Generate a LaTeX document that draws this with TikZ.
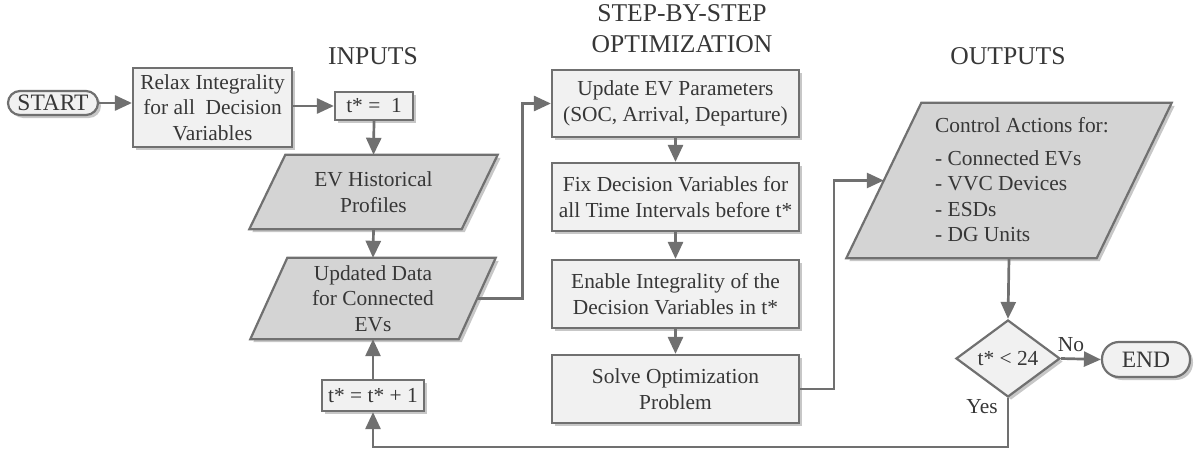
\documentclass[tikz,border=0pt]{standalone}
\usepackage{fontspec}
\setmainfont{Liberation Serif}
\newfontfamily\tnrfont{Liberation Serif}
\usetikzlibrary{arrows.meta,shapes.geometric,shadows,backgrounds}
\definecolor{linec}{RGB}{112,112,112}
\definecolor{boxfill}{RGB}{241,241,241}
\definecolor{parfill}{RGB}{212,212,212}
\definecolor{txtc}{RGB}{55,55,55}
\newcommand\fsbox{\tnrfont\fontsize{21.4}{25.5}\selectfont}
\newcommand\fshead{\tnrfont\fontsize{25.6}{30}\selectfont}
\newcommand\fsterm{\tnrfont\fontsize{23.5}{28}\selectfont}
\begin{document}
\begin{tikzpicture}[x=1pt,y=-1pt,
  every node/.style={text=txtc},
  shad/.style={drop shadow={shadow xshift=3pt,shadow yshift=-3pt,opacity=0.22,fill=black}},
  bx/.style={draw=linec,line width=2.2pt,fill=boxfill,inner sep=0pt,align=center,font=\fsbox,shad},
  term/.style={bx,font=\fsterm},
  partxt/.style={inner sep=0pt,align=center,font=\fsbox},
  parshape/.style={draw=linec,line width=2.2pt,fill=parfill,line join=miter,shad},
  head/.style={font=\fshead,anchor=base},
  lbl/.style={font=\fsbox,inner sep=0pt},
  arr/.style={draw=linec,line width=2.7pt,line join=miter,-{Triangle[length=17pt,width=15pt]}}
]
\useasboundingbox (0,0) rectangle (1197,452);

% headers
\node[head] (hin) at (373,65) {INPUTS};
\node[head] (hstep) at (682,22) {STEP-BY-STEP};
\node[head] (hopt) at (682,53) {OPTIMIZATION};
\node[head] (hout) at (1008,65) {OUTPUTS};

% left
\node[term,minimum width=90pt,minimum height=24pt,rounded corners=12pt] (start) at (53,103) {START};
\node[bx,minimum width=159pt,minimum height=79pt] (relax) at (212.5,107.5) {Relax Integrality\\for all~ Decision\\Variables};
\node[bx,minimum width=78pt,minimum height=28pt] (t1) at (374,106) {t* = ~1};
\node[partxt,minimum width=212pt,minimum height=74pt] (evh) at (373.5,192) {EV Historical\\Profiles};
\node[partxt,minimum width=208pt,minimum height=81pt] (upd) at (373,298.5) {Updated Data\\for Connected\\EVs};
\node[bx,minimum width=102pt,minimum height=31pt] (tinc) at (373,395.5) {t* = t* + 1};

% middle
\node[bx,minimum width=247pt,minimum height=67pt] (upev) at (675.5,103.5) {Update EV Parameters\\(SOC, Arrival, Departure)};
\node[bx,minimum width=247pt,minimum height=68pt] (fix) at (675.5,197) {Fix Decision Variables for\\all Time Intervals before t*};
\node[bx,minimum width=247pt,minimum height=68pt] (enable) at (675.5,294) {Enable Integrality of the\\Decision Variables in t*};
\node[bx,minimum width=247pt,minimum height=68pt] (solve) at (675.5,389) {Solve Optimization\\Problem};

% right
\node[partxt,minimum width=250pt,minimum height=155pt] (outp) at (1009,180.5) {};
\node[partxt,anchor=west,align=left] (outtxt) at (935,180) {Control Actions for:\\[7pt]- Connected EVs\\- VVC Devices\\- ESDs\\- DG Units};
\node[bx,shape=diamond,minimum width=104pt,minimum height=77pt] (dec) at (1008,358.5) {t* < 24};
\node[term,minimum width=88pt,minimum height=35pt,rounded corners=17pt] (end) at (1146,359.5) {END};

% parallelograms behind text
\begin{pgfonlayer}{background}
\draw[parshape] ([xshift=-18pt]evh.south west) -- ([xshift=18pt]evh.north west) -- ([xshift=18pt]evh.north east) -- ([xshift=-18pt]evh.south east) -- cycle;
\draw[parshape] ([xshift=-18.5pt]upd.south west) -- ([xshift=18.5pt]upd.north west) -- ([xshift=18.5pt]upd.north east) -- ([xshift=-18.5pt]upd.south east) -- cycle;
\draw[parshape] ([xshift=-37.5pt]outp.south west) -- ([xshift=37.5pt]outp.north west) -- ([xshift=37.5pt]outp.north east) -- ([xshift=-37.5pt]outp.south east) -- cycle;
\end{pgfonlayer}

% connectors
\draw[arr] (start.east) -- (start.east -| relax.west);
\draw[arr] (relax.east |- t1.west) -- (t1.west);
\draw[arr] (t1.south) -- (evh.north);
\draw[arr] (evh.south) -- (upd.north);
\draw[arr] (tinc.north) -- (upd.south);
\draw[arr] (upd.east) -- ++(45,0) |- (upev.west);
\draw[arr] (upev.south) -- (fix.north);
\draw[arr] (fix.south) -- (enable.north);
\draw[arr] (enable.south) -- (solve.north);
\draw[arr] (solve.east) -- ++(34,0) |- (outp.west);
\draw[arr] (outp.south) -- (dec.north);
\draw[arr] (dec.east) -- (end.west);
\draw[arr] (dec.south) -- ++(0,49) -| (tinc.south);

\node[lbl] (no) at (1071,345) {No};
\node[lbl] (yes) at (982,407) {Yes};
\end{tikzpicture}
\end{document}
